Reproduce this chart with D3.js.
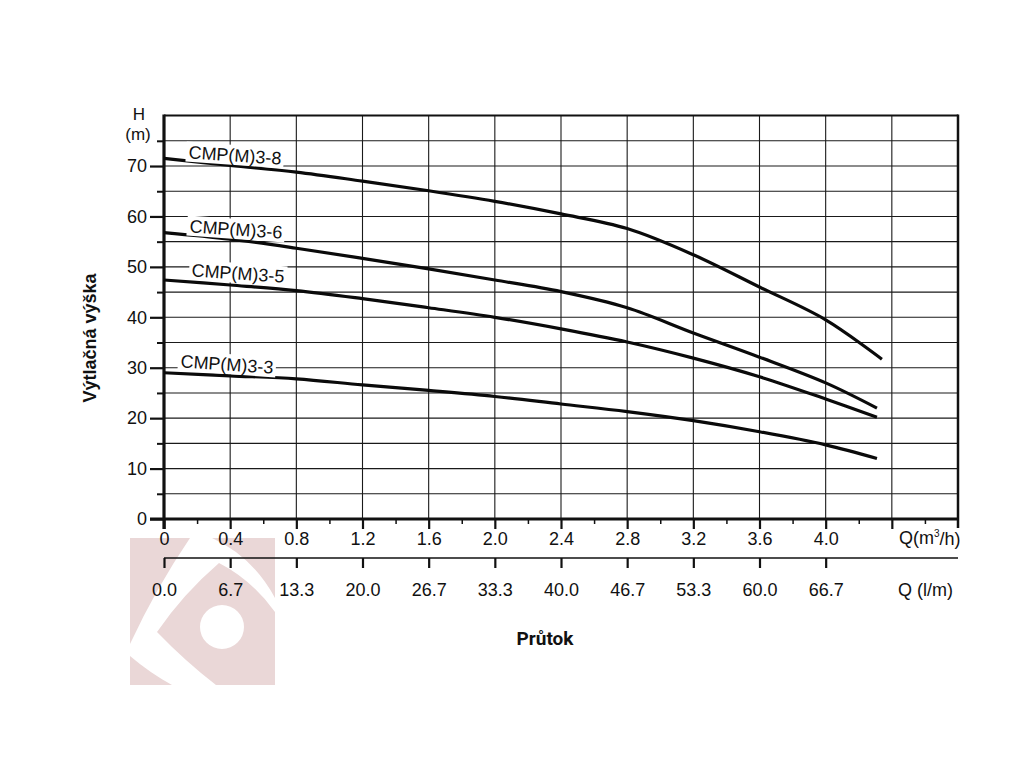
<!DOCTYPE html>
<html>
<head>
<meta charset="utf-8">
<script src="https://cdn.jsdelivr.net/npm/d3@7"></script>
<style>
  html, body { margin: 0; padding: 0; background: #fff; }
  svg { display: block; }
</style>
</head>
<body>
<svg id="chart" width="1024" height="768"></svg>
<script>
// ---- data ----
const seriesNames = ["CMP(M)3-8", "CMP(M)3-6", "CMP(M)3-5", "CMP(M)3-3"];
const flowPoints = [0, 0.4, 0.8, 1.2, 1.6, 2.0, 2.4, 2.8, 3.2, 3.6, 4.0];
const head38 = [71.5, 70.1, 68.8, 67.0, 65.1, 63.0, 60.5, 57.6, 52.4, 46.0, 39.5, 31.7];
const head36 = [56.8, 55.5, 53.7, 51.7, 49.6, 47.4, 45.1, 41.9, 36.9, 32.1, 27.0, 22.0];
const head35 = [47.4, 46.4, 45.3, 43.7, 41.9, 40.0, 37.7, 35.1, 31.9, 28.2, 23.8, 20.2];
const head33 = [29.0, 28.4, 27.8, 26.6, 25.5, 24.3, 22.8, 21.3, 19.5, 17.3, 14.7, 12.0];
const endFlow = [4.34, 4.31, 4.31, 4.31];
const yTickValues = [0, 10, 20, 30, 40, 50, 60, 70];
const xTickLabels = ["0", "0.4", "0.8", "1.2", "1.6", "2.0", "2.4", "2.8", "3.2", "3.6", "4.0"];
const lpmTickLabels = ["0.0", "6.7", "13.3", "20.0", "26.7", "33.3", "40.0", "46.7", "53.3", "60.0", "66.7"];
const labelAnchors = [[235, 155], [236, 229], [238, 273], [227, 364]];

const heads = [head38, head36, head35, head33];
const FONT = "'Liberation Sans', Arial, Helvetica, sans-serif";

// ---- layout ----
const svg = d3.select("#chart");
const x = d3.scaleLinear().domain([0, 4.8]).range([164, 958]);
const y = d3.scaleLinear().domain([0, 80]).range([519, 115.6]);

// ---- watermark logo ----
const logo = svg.append("g").attr("fill", "#ead7d7");
logo.append("path").attr("d", "M130,538 L190,538 Q156,588 130,644 Z");
logo.append("path").attr("d", "M130,656 Q150,673 172,685 L130,685 Z");
logo.append("path")
  .attr("fill-rule", "evenodd")
  .attr("d", "M219,563 Q183,594 157,632 Q186,662 216,685 L275,685 L275,612 Q252,580 219,563 Z " +
             "M244,627 A22,22 0 1,0 200,627 A22,22 0 1,0 244,627 Z");
logo.append("path").attr("d", "M212,538 L275,538 L275,598 Q252,556 212,538 Z");

// ---- grid ----
const grid = svg.append("g").attr("stroke", "#1a1a1a").attr("stroke-width", 1.1);
grid.selectAll("line.h").data(d3.range(5, 80, 5)).join("line")
  .attr("x1", x(0)).attr("x2", x(4.8))
  .attr("y1", d => y(d)).attr("y2", d => y(d));
grid.selectAll("line.v").data(d3.range(1, 12).map(i => i * 0.4)).join("line")
  .attr("x1", d => x(d)).attr("x2", d => x(d))
  .attr("y1", y(80)).attr("y2", y(0));

// ---- frame ----
svg.append("line").attr("x1", x(0)).attr("x2", x(4.8)).attr("y1", y(80)).attr("y2", y(80))
  .attr("stroke", "#111").attr("stroke-width", 2);
svg.append("line").attr("x1", x(4.8)).attr("x2", x(4.8)).attr("y1", y(80) - 1).attr("y2", y(0) + 9)
  .attr("stroke", "#111").attr("stroke-width", 2.5);

function styleText(sel, size) {
  sel.style("font-family", FONT).style("font-size", size + "px").style("fill", "#111");
}

// ---- x axis (m3/h) ----
const xAxisMajor = d3.axisBottom(x)
  .tickValues(d3.range(0, 12).map(i => i * 0.4))
  .tickSize(10).tickFormat((d, i) => i < xTickLabels.length ? xTickLabels[i] : "");
const gx = svg.append("g").attr("transform", `translate(0,${y(0)})`).call(xAxisMajor);
gx.select(".domain").attr("stroke", "#111").attr("stroke-width", 3.2).attr("d", `M150,0H${x(4.8) + 1}`);
gx.selectAll(".tick line").attr("stroke", "#111").attr("stroke-width", 2.2);
gx.selectAll(".tick text").attr("y", 13).attr("dy", "0.71em").call(styleText, 18);
const xAxisMinor = d3.axisBottom(x)
  .tickValues(d3.range(0, 12).map(i => i * 0.4 + 0.2))
  .tickSize(5).tickFormat("");
const gxm = svg.append("g").attr("transform", `translate(0,${y(0)})`).call(xAxisMinor);
gxm.select(".domain").remove();
gxm.selectAll(".tick line").attr("stroke", "#111").attr("stroke-width", 1.5);

// ---- second x axis (l/min) ----
const xAxisLpm = d3.axisBottom(x)
  .tickValues(flowPoints)
  .tickSize(10).tickFormat((d, i) => lpmTickLabels[i]);
const gl = svg.append("g").attr("transform", "translate(0,558)").call(xAxisLpm);
gl.select(".domain").attr("stroke", "#111").attr("stroke-width", 1.6).attr("d", `M${x(0)},0H${x(4.8)}`);
gl.selectAll(".tick line").attr("stroke", "#111").attr("stroke-width", 2.2);
gl.selectAll(".tick text").attr("y", 25).attr("dy", "0.71em").call(styleText, 18);

// ---- y axis ----
const yAxisMajor = d3.axisLeft(y).tickValues(yTickValues).tickSize(14).tickPadding(3);
const gy = svg.append("g").attr("transform", `translate(${x(0)},0)`).call(yAxisMajor);
gy.select(".domain").attr("stroke", "#111").attr("stroke-width", 3.2)
  .attr("d", `M0,${y(80) - 1}V${y(0) + 10}`);
gy.selectAll(".tick line").attr("stroke", "#111").attr("stroke-width", 2.2);
gy.selectAll(".tick text").call(styleText, 18);
const yAxisMinor = d3.axisLeft(y).tickValues(d3.range(5, 80, 10)).tickSize(7).tickFormat("");
const gym = svg.append("g").attr("transform", `translate(${x(0)},0)`).call(yAxisMinor);
gym.select(".domain").remove();
gym.selectAll(".tick line").attr("stroke", "#111").attr("stroke-width", 2);

// ---- curves ----
const line = d3.line().x(d => x(d[0])).y(d => y(d[1])).curve(d3.curveCatmullRom.alpha(0.5));
heads.forEach((h, si) => {
  const qs = flowPoints.concat([endFlow[si]]);
  const pts = h.map((v, i) => [qs[i], v]);
  svg.append("path").datum(pts).attr("d", line)
    .attr("fill", "none").attr("stroke", "#0a0a0a").attr("stroke-width", 3.2);
});

// ---- curve labels ----
seriesNames.forEach((name, i) => {
  const g = svg.append("g")
    .attr("transform", `translate(${labelAnchors[i][0]},${labelAnchors[i][1]}) rotate(4)`);
  g.append("rect").attr("x", -49).attr("y", -10).attr("width", 98).attr("height", 20).attr("fill", "#fff");
  g.append("text").text(name).attr("text-anchor", "middle").attr("dy", "0.36em").call(styleText, 18);
});

// ---- axis titles ----
svg.append("text").text("H").attr("x", 139).attr("y", 114).attr("text-anchor", "middle")
  .attr("dy", "0.36em").call(styleText, 17);
svg.append("text").text("(m)").attr("x", 138).attr("y", 134).attr("text-anchor", "middle")
  .attr("dy", "0.36em").call(styleText, 17);
const qm = svg.append("text").attr("x", 899).attr("y", 538).attr("dy", "0.36em").call(styleText, 18);
qm.append("tspan").text("Q(m");
qm.append("tspan").text("3").style("font-size", "10px").attr("dy", "-0.75em");
qm.append("tspan").text("/h)").attr("dy", "0.42em");
svg.append("text").text("Q (l/m)").attr("x", 898).attr("y", 590).attr("dy", "0.36em").call(styleText, 18);

svg.append("text").text("Výtlačná výška")
  .attr("transform", "translate(90,338) rotate(-90)")
  .attr("text-anchor", "middle").attr("dy", "0.36em")
  .call(styleText, 18).style("font-weight", "bold");
svg.append("text").text("Průtok").attr("x", 545).attr("y", 638)
  .attr("text-anchor", "middle").attr("dy", "0.36em")
  .call(styleText, 19).style("font-weight", "bold")
  .style("font-family", "Roboto, 'Liberation Sans', sans-serif");
</script>
</body>
</html>
